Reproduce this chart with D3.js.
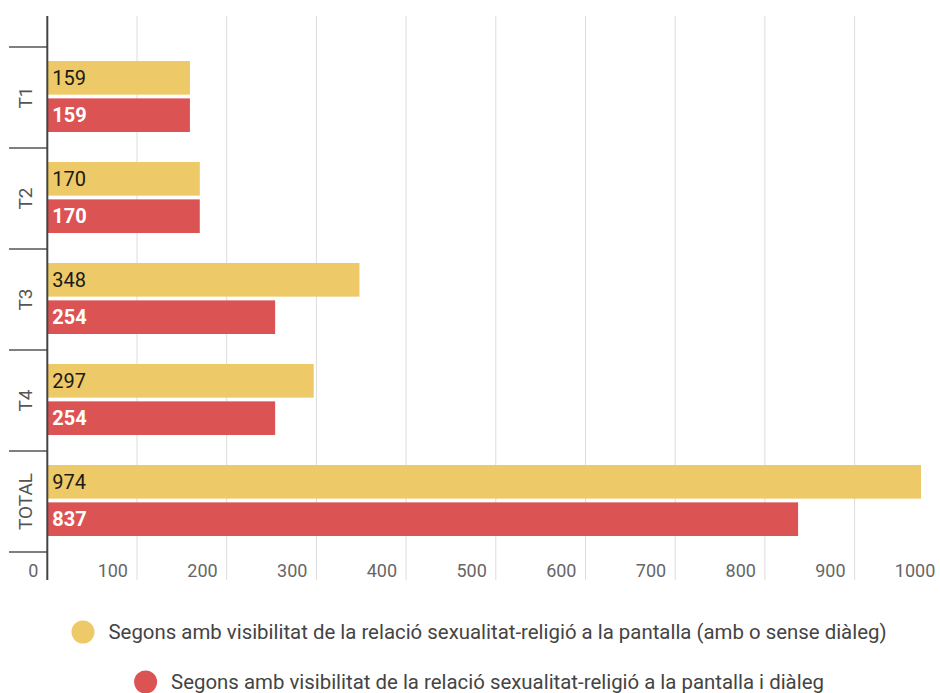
<!DOCTYPE html>
<html>
<head>
<meta charset="utf-8">
<script src="https://cdn.jsdelivr.net/npm/d3@7"></script>
<style>
  body { margin: 0; background: #fff; font-family: Roboto, "Noto Sans", sans-serif; }
</style>
</head>
<body>
<div id="chart"></div>
<script>
const categories = ["T1", "T2", "T3", "T4", "TOTAL"]
const seriesNames = [
  "Segons amb visibilitat de la relació sexualitat-religió a la pantalla (amb o sense diàleg)",
  "Segons amb visibilitat de la relació sexualitat-religió a la pantalla i diàleg"
]
const visibleValues = [159, 170, 348, 297, 974]
const dialogueValues = [159, 170, 254, 254, 837]
const xTicks = [0, 100, 200, 300, 400, 500, 600, 700, 800, 900, 1000]

const colors = ["#EDC967", "#DC5354"]

const width = 940
const height = 693
const margin = { top: 16, right: 0, bottom: 113, left: 47 }
const bandTop = 47
const bandBottom = 552

const svg = d3.select("#chart")
  .append("svg")
  .attr("width", width)
  .attr("height", height)

const x = d3.scaleLinear()
  .domain([0, 1000])
  .range([47.3, 944.3])

const y = d3.scaleBand()
  .domain(categories)
  .range([bandTop, bandBottom])

const inner = d3.scaleBand()
  .domain([0, 1])
  .range([14, y.bandwidth() - 16])
  .paddingInner(0.1)

// gridlines
svg.append("g")
  .selectAll("line")
  .data(xTicks.filter(d => d > 0))
  .enter()
  .append("line")
  .attr("x1", d => x(d))
  .attr("x2", d => x(d))
  .attr("y1", margin.top)
  .attr("y2", 580)
  .attr("stroke", "#dcdcdc")
  .attr("stroke-width", 1)

// x tick labels (right-aligned just left of gridline)
svg.append("g")
  .selectAll("text")
  .data(xTicks)
  .enter()
  .append("text")
  .attr("x", d => x(d) - 9)
  .attr("y", 577)
  .attr("text-anchor", "end")
  .attr("font-size", "18px")
  .attr("fill", "#666")
  .text(d => d)

const rows = categories.map((c, i) => ({ cat: c, vals: [visibleValues[i], dialogueValues[i]] }))

const groups = svg.append("g")
  .selectAll("g")
  .data(rows)
  .enter()
  .append("g")
  .attr("transform", d => `translate(0,${y(d.cat)})`)

groups.selectAll("rect")
  .data(d => d.vals.map((v, k) => ({ v, k })))
  .enter()
  .append("rect")
  .attr("x", x(0))
  .attr("y", d => inner(d.k))
  .attr("width", d => x(d.v) - x(0))
  .attr("height", inner.bandwidth())
  .attr("fill", d => colors[d.k])

groups.selectAll("text.val")
  .data(d => d.vals.map((v, k) => ({ v, k })))
  .enter()
  .append("text")
  .attr("class", "val")
  .attr("x", x(0) + 5)
  .attr("y", d => inner(d.k) + inner.bandwidth() / 2)
  .attr("dy", "0.36em")
  .attr("font-size", "20px")
  .attr("font-weight", d => d.k === 1 ? 700 : 400)
  .attr("fill", d => d.k === 1 ? "#fff" : "#1a1a1a")
  .text(d => d.v)

// category separators
svg.append("g")
  .selectAll("line")
  .data(d3.range(categories.length + 1))
  .enter()
  .append("line")
  .attr("x1", 9)
  .attr("x2", x(0))
  .attr("y1", i => bandTop + i * y.step())
  .attr("y2", i => bandTop + i * y.step())
  .attr("stroke", "#555")
  .attr("stroke-width", 1.3)

// category labels
svg.append("g")
  .selectAll("text")
  .data(categories)
  .enter()
  .append("text")
  .attr("transform", d => `translate(32,${y(d) + y.bandwidth() / 2}) rotate(-90)`)
  .attr("text-anchor", "middle")
  .attr("font-size", "19px")
  .attr("fill", "#555")
  .text(d => d)

// axis line
svg.append("line")
  .attr("x1", x(0))
  .attr("x2", x(0))
  .attr("y1", margin.top)
  .attr("y2", 580)
  .attr("stroke", "#444")
  .attr("stroke-width", 2)

// legend
const legend = svg.append("g")
seriesNames.forEach((name, i) => {
  const row = legend.append("g")
  const t = row.append("text")
    .attr("y", 632 + i * 50)
    .attr("dy", "0.35em")
    .attr("font-size", "20.4px")
    .attr("fill", "#444")
    .text(name)
  const tw = t.node().getComputedTextLength()
  const total = 23 + 14 + tw
  const start = 479 - total / 2
  row.append("circle")
    .attr("cx", start + 11.5)
    .attr("cy", 632 + i * 50)
    .attr("r", 11.5)
    .attr("fill", colors[i])
  t.attr("x", start + 37)
})
</script>
</body>
</html>
